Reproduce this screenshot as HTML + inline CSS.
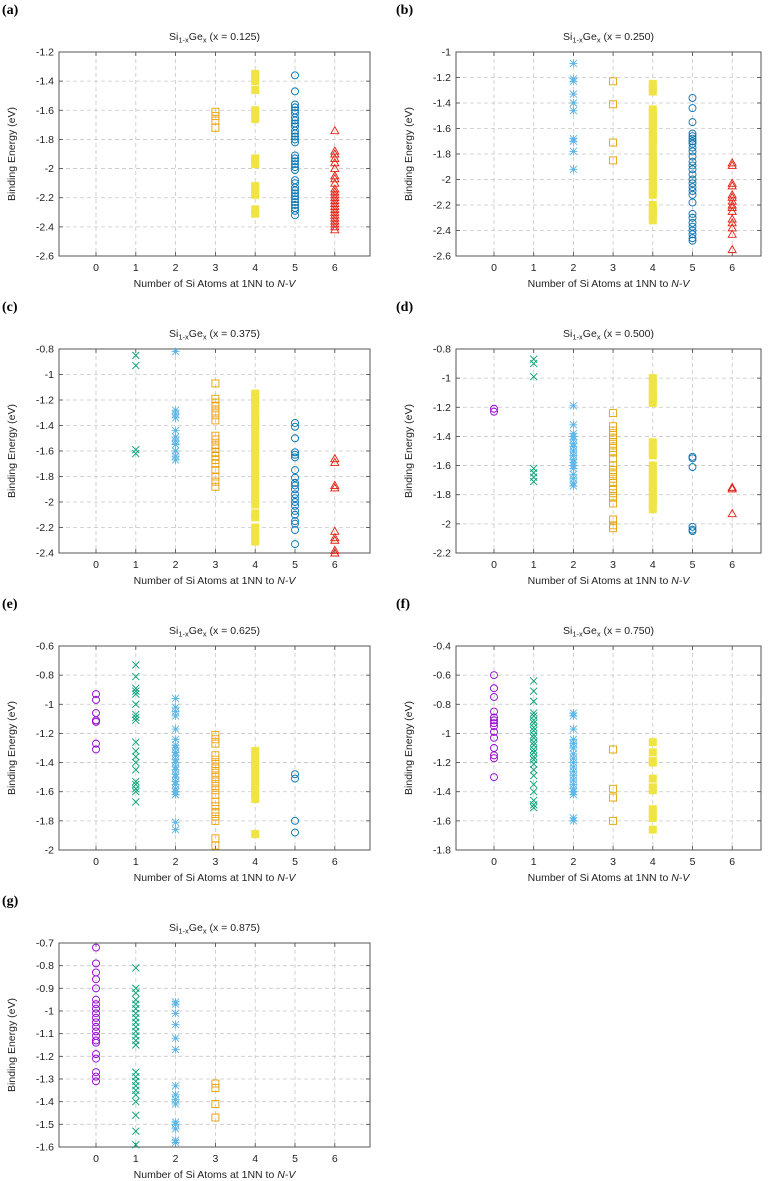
<!DOCTYPE html>
<html><head><meta charset="utf-8"><style>
html,body{margin:0;padding:0;background:#fff;}
svg{display:block;font-family:"Liberation Sans",sans-serif;}
</style></head><body>
<svg id="chart" width="768" height="1181" viewBox="0 0 768 1181" xmlns="http://www.w3.org/2000/svg"></svg>
<script>
const panelLabels=["(a)","(b)","(c)","(d)","(e)","(f)","(g)"];
const panelX=["0.125","0.250","0.375","0.500","0.625","0.750","0.875"];
const yMaxs=[-1.2,-1,-0.8,-0.8,-0.6,-0.4,-0.7];
const yMins=[-2.6,-2.6,-2.4,-2.2,-2,-1.8,-1.6];
const yStepsArr=[0.2,0.2,0.2,0.2,0.2,0.2,0.1];
const xTicks=[0,1,2,3,4,5,6];
// data: per panel, per Si count [0..6]
const pa=[[],[],[],
[-1.61,-1.64,-1.67,-1.72],
[-1.35,-1.37,-1.40,-1.46,-1.60,-1.62,-1.64,-1.66,-1.93,-1.95,-1.97,-2.12,-2.14,-2.16,-2.18,-2.28,-2.31],
[-1.36,-1.47,-1.56,-1.58,-1.60,-1.62,-1.65,-1.67,-1.69,-1.71,-1.74,-1.76,-1.78,-1.80,-1.82,-1.91,-1.93,-1.95,-1.97,-1.99,-2.01,-2.08,-2.10,-2.13,-2.15,-2.17,-2.19,-2.21,-2.23,-2.25,-2.27,-2.29,-2.32],
[-1.74,-1.88,-1.90,-1.93,-1.96,-2.00,-2.05,-2.07,-2.10,-2.14,-2.16,-2.18,-2.20,-2.22,-2.24,-2.26,-2.28,-2.30,-2.32,-2.34,-2.36,-2.38,-2.40,-2.42]];
const pb=[[],[],
[-1.09,-1.21,-1.23,-1.33,-1.40,-1.46,-1.68,-1.70,-1.78,-1.92],
[-1.23,-1.41,-1.71,-1.85],
[-1.25,-1.28,-1.31,-1.45,-1.48,-1.51,-1.54,-1.57,-1.60,-1.63,-1.66,-1.69,-1.72,-1.75,-1.80,-1.83,-1.86,-1.89,-1.92,-1.95,-1.98,-2.01,-2.04,-2.07,-2.10,-2.12,-2.20,-2.23,-2.26,-2.29,-2.32],
[-1.36,-1.44,-1.55,-1.64,-1.66,-1.68,-1.70,-1.72,-1.75,-1.78,-1.82,-1.86,-1.89,-1.92,-1.96,-2.00,-2.03,-2.06,-2.09,-2.12,-2.18,-2.27,-2.30,-2.34,-2.37,-2.40,-2.43,-2.46,-2.48],
[-1.87,-1.89,-2.03,-2.05,-2.12,-2.14,-2.17,-2.20,-2.22,-2.25,-2.31,-2.34,-2.38,-2.43,-2.55]];
const pc=[[],
[-0.85,-0.93,-1.59,-1.62],
[-0.82,-1.28,-1.31,-1.34,-1.44,-1.49,-1.52,-1.55,-1.60,-1.64,-1.67],
[-1.07,-1.19,-1.22,-1.25,-1.29,-1.32,-1.36,-1.48,-1.51,-1.55,-1.58,-1.61,-1.64,-1.67,-1.70,-1.75,-1.80,-1.84,-1.88],
[-1.15,-1.18,-1.21,-1.24,-1.27,-1.30,-1.33,-1.35,-1.39,-1.42,-1.45,-1.48,-1.51,-1.54,-1.57,-1.60,-1.63,-1.66,-1.69,-1.72,-1.75,-1.78,-1.81,-1.84,-1.87,-1.90,-1.93,-1.96,-1.99,-2.02,-2.09,-2.12,-2.20,-2.23,-2.26,-2.29,-2.31],
[-1.38,-1.41,-1.50,-1.61,-1.63,-1.65,-1.75,-1.81,-1.85,-1.87,-1.90,-1.94,-1.97,-2.00,-2.03,-2.07,-2.10,-2.15,-2.17,-2.22,-2.33],
[-1.66,-1.69,-1.87,-1.89,-2.23,-2.28,-2.30,-2.38,-2.40]];
const pd=[[-1.21,-1.23],
[-0.87,-0.90,-0.99,-1.62,-1.65,-1.68,-1.71],
[-1.19,-1.32,-1.38,-1.40,-1.42,-1.45,-1.47,-1.50,-1.53,-1.56,-1.58,-1.60,-1.62,-1.66,-1.69,-1.72,-1.74],
[-1.24,-1.33,-1.36,-1.39,-1.42,-1.45,-1.48,-1.51,-1.55,-1.60,-1.63,-1.66,-1.69,-1.72,-1.76,-1.79,-1.82,-1.86,-1.97,-2.01,-2.03],
[-1.00,-1.03,-1.06,-1.09,-1.12,-1.15,-1.17,-1.44,-1.47,-1.50,-1.53,-1.60,-1.63,-1.66,-1.69,-1.72,-1.75,-1.78,-1.81,-1.84,-1.87,-1.90],
[-1.54,-1.55,-1.61,-2.02,-2.04,-2.05],
[-1.75,-1.76,-1.93]];
const pe=[[-0.93,-0.97,-1.06,-1.11,-1.12,-1.27,-1.31],
[-0.73,-0.81,-0.89,-0.91,-0.93,-1.00,-1.07,-1.09,-1.11,-1.26,-1.32,-1.36,-1.40,-1.45,-1.53,-1.55,-1.58,-1.60,-1.67],
[-0.96,-1.02,-1.05,-1.08,-1.17,-1.24,-1.28,-1.30,-1.33,-1.35,-1.38,-1.40,-1.43,-1.45,-1.48,-1.50,-1.53,-1.55,-1.58,-1.60,-1.62,-1.81,-1.86],
[-1.21,-1.24,-1.27,-1.35,-1.38,-1.41,-1.44,-1.47,-1.50,-1.53,-1.56,-1.59,-1.62,-1.67,-1.70,-1.74,-1.77,-1.80,-1.92,-1.97],
[-1.32,-1.35,-1.38,-1.41,-1.44,-1.47,-1.50,-1.53,-1.56,-1.59,-1.62,-1.65,-1.89],
[-1.48,-1.51,-1.80,-1.88],
[]];
const pf=[[-0.60,-0.69,-0.75,-0.85,-0.89,-0.91,-0.93,-0.95,-0.99,-1.03,-1.10,-1.15,-1.17,-1.30],
[-0.64,-0.71,-0.78,-0.86,-0.88,-0.91,-0.93,-0.96,-0.98,-1.01,-1.03,-1.06,-1.08,-1.11,-1.13,-1.16,-1.18,-1.21,-1.25,-1.29,-1.35,-1.40,-1.46,-1.49,-1.51],
[-0.86,-0.88,-0.97,-1.04,-1.07,-1.10,-1.14,-1.17,-1.20,-1.23,-1.26,-1.29,-1.32,-1.35,-1.38,-1.40,-1.42,-1.58,-1.60],
[-1.11,-1.38,-1.44,-1.60],
[-1.06,-1.13,-1.19,-1.20,-1.31,-1.37,-1.39,-1.52,-1.55,-1.58,-1.66],
[],[]];
const pg=[[-0.72,-0.79,-0.83,-0.86,-0.90,-0.95,-0.97,-0.99,-1.01,-1.03,-1.05,-1.07,-1.09,-1.11,-1.13,-1.14,-1.19,-1.21,-1.27,-1.29,-1.31],
[-0.81,-0.90,-0.92,-0.95,-0.97,-0.99,-1.01,-1.03,-1.05,-1.07,-1.09,-1.11,-1.13,-1.15,-1.27,-1.29,-1.31,-1.33,-1.35,-1.37,-1.40,-1.46,-1.53,-1.59],
[-0.96,-0.97,-1.01,-1.06,-1.12,-1.17,-1.33,-1.37,-1.39,-1.41,-1.49,-1.50,-1.52,-1.57,-1.58],
[-1.32,-1.34,-1.41,-1.47],
[],[],[]];
const panelData=[pa,pb,pc,pd,pe,pf,pg];
const colors=["#9400d3","#009e73","#56b4e9","#e69f00","#f0e442","#0072b2","#e51e10"];
const groupNames=["si0-circles","si1-crosses","si2-asterisks","si3-squares","si4-filled-squares","si5-circles","si6-triangles"];

const NS="http://www.w3.org/2000/svg";
const svg=document.getElementById('chart');
function mk(tag,attrs,parent){const e=document.createElementNS(NS,tag);for(const k in attrs)e.setAttribute(k,attrs[k]);parent.appendChild(e);return e;}
const cols=[{l:59,r:370,x0:96,dx:39.8,yl:15,lab:2},{l:456,r:761,x0:494,dx:39.7,yl:412,lab:396}];
const rowTops=[52,349,646,943];
const H=204;

panelData.forEach((data,p)=>{
  const c=cols[p%2], top=rowTops[Math.floor(p/2)], bot=top+H;
  const g=mk('g',{},svg);
  
  
  const yMax=yMaxs[p], yMin=yMins[p];
  const X=v=>c.x0+v*c.dx;
  const Y=v=>top+(yMax-v)/(yMax-yMin)*H;
  const lab=mk('text',{x:c.lab,y:top-38,'font-family':'Liberation Serif,serif','font-weight':'bold','font-size':'14'},g);
  lab.textContent=panelLabels[p];
  
  
  const t=mk('text',{x:(c.l+c.r)/2,y:top-12,'text-anchor':'middle','font-size':'10.5',fill:'#222'},g);
  
  
  t.innerHTML='Si<tspan font-size="7.5" dy="2.5">1-x</tspan><tspan dy="-2.5">Ge</tspan><tspan font-size="7.5" dy="2.5">x</tspan><tspan dy="-2.5"> (x = '+panelX[p]+')</tspan>';
  // grid + ticks
  xTicks.forEach(v=>{
    const gl=mk('line',{x1:X(v),x2:X(v),y1:top,y2:bot,stroke:'#c8c8c8','stroke-width':'0.8','stroke-dasharray':'4,3'},g);
    
    
    mk('line',{x1:X(v),x2:X(v),y1:bot,y2:bot-4,stroke:'#444','stroke-width':'0.8'},g);
    mk('line',{x1:X(v),x2:X(v),y1:top,y2:top+4,stroke:'#444','stroke-width':'0.8'},g);
    const tl=mk('text',{x:X(v),y:bot+15,'text-anchor':'middle','font-size':'10.5',fill:'#222'},g);
    tl.textContent=v;
    
    
  });
  const step=yStepsArr[p];
  const n=Math.round((yMax-yMin)/step);
  for(let i=0;i<=n;i++){
    const v=yMax-i*step, y=Y(v);
    if(i>0&&i<n){
      const gl=mk('line',{x1:c.l,x2:c.r,y1:y,y2:y,stroke:'#c8c8c8','stroke-width':'0.8','stroke-dasharray':'4,3'},g);
      
      
    }
    mk('line',{x1:c.l,x2:c.l+4,y1:y,y2:y,stroke:'#444','stroke-width':'0.8'},g);
    mk('line',{x1:c.r,x2:c.r-4,y1:y,y2:y,stroke:'#444','stroke-width':'0.8'},g);
    const tl=mk('text',{x:c.l-5,y:y+3.5,'text-anchor':'end','font-size':'10.5',fill:'#222'},g);
    let s=(Math.round(v*10)/10).toString();
    tl.textContent=s;
    
    
  }
  const fr=mk('rect',{x:c.l,y:top,width:c.r-c.l,height:H,fill:'none',stroke:'#555','stroke-width':'1'},g);
  
  
  const xl=mk('text',{x:(c.l+c.r)/2,y:bot+31,'text-anchor':'middle','font-size':'10.5',fill:'#222'},g);
  xl.innerHTML='Number of Si Atoms at 1NN to <tspan font-style="italic">N-V</tspan>';
  
  
  const yl=mk('text',{x:c.yl,y:top+H/2,'text-anchor':'middle','font-size':'10.5',fill:'#222',transform:'rotate(-90 '+c.yl+' '+(top+H/2)+')'},g);
  yl.textContent='Binding Energy (eV)';
  
  
  // markers
  data.forEach((vals,k)=>{
    const sg=mk('g',{stroke:colors[k],fill:'none','stroke-width':'0.9'},g);
    
    
    vals.forEach(v=>{
      const cx=X(k), cy=Y(v); let m;
      if(k===0||k===5){m=mk('circle',{cx:cx,cy:cy,r:3.5},sg);}
      else if(k===1){m=mk('path',{d:`M${cx-3.5},${cy-3.5}L${cx+3.5},${cy+3.5}M${cx-3.5},${cy+3.5}L${cx+3.5},${cy-3.5}`},sg);}
      else if(k===2){m=mk('path',{d:`M${cx-3.5},${cy-3.5}L${cx+3.5},${cy+3.5}M${cx-3.5},${cy+3.5}L${cx+3.5},${cy-3.5}M${cx},${cy-4}L${cx},${cy+4}M${cx-4},${cy}L${cx+4},${cy}`},sg);}
      else if(k===3){m=mk('rect',{x:cx-3.5,y:cy-3.5,width:7,height:7},sg);}
      else if(k===4){m=mk('rect',{x:cx-4,y:cy-4,width:8,height:8,fill:colors[4],stroke:'none'},sg);}
      else {m=mk('path',{d:`M${cx},${cy-4}L${cx+4},${cy+3}L${cx-4},${cy+3}Z`},sg);}
      
      
    });
  });
});
</script>
</body></html>
